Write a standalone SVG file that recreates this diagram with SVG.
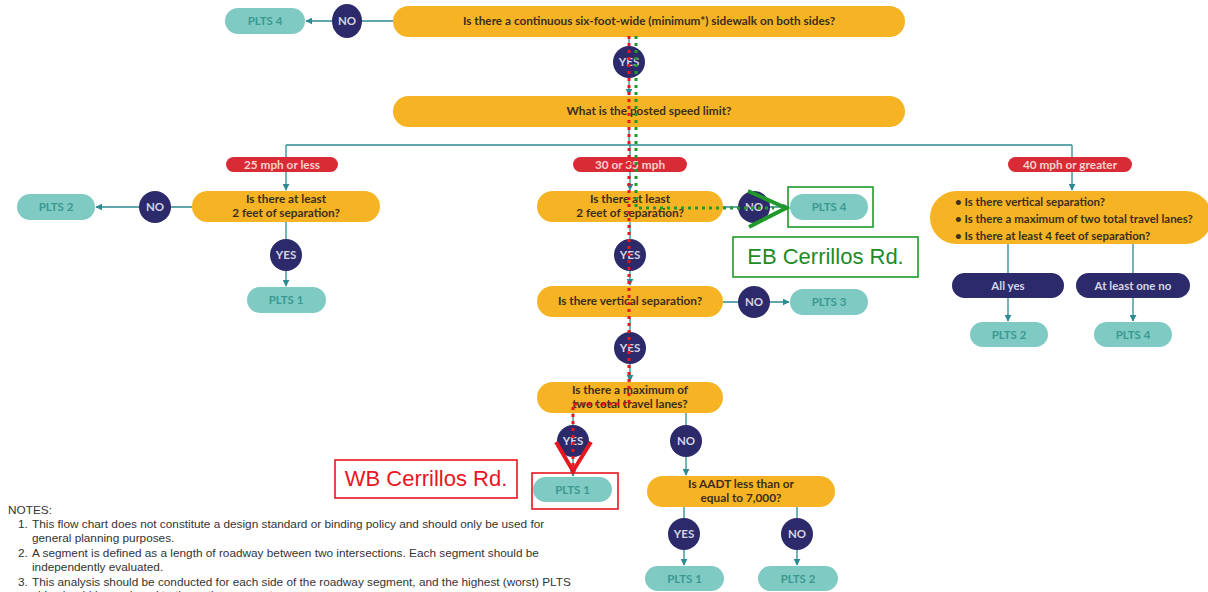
<svg xmlns="http://www.w3.org/2000/svg" width="1208" height="592" viewBox="0 0 1208 592">
  <style>
    .q { fill: #F6B424; }
    .qt { font-family: Lato, "Open Sans", sans-serif; font-weight: 700; font-size: 11.8px; fill: #3A2E1E; text-anchor: middle; }
    .qtl { font-family: Lato, "Open Sans", sans-serif; font-weight: 700; font-size: 11.5px; fill: #3A2E1E; }
    .res { fill: #7FCBC3; }
    .rt { font-family: Lato, "Open Sans", sans-serif; font-weight: 700; font-size: 11.5px; fill: #3C9891; text-anchor: middle; }
    .dot { fill: #2C2A6B; }
    .dt { font-family: Lato, "Open Sans", sans-serif; font-weight: 700; font-size: 11.5px; fill: #D6D6E4; text-anchor: middle; }
    .lab { fill: #D82B36; }
    .lt { font-family: Lato, "Open Sans", sans-serif; font-weight: 700; font-size: 11.8px; fill: #F6D3CB; text-anchor: middle; }
    .ln { fill: none; stroke: #2B8A92; stroke-width: 1.3; }
    .arr { fill: none; stroke: #2B8A92; stroke-width: 1.3; marker-end: url(#tip); }
    .note { font-family: "Liberation Sans", Arial, sans-serif; font-size: 11.8px; fill: #333333; }
    .red { stroke: #E8161E; }
    .green { stroke: #1F9A2A; }
  </style>
  <defs>
    <marker id="tip" viewBox="0 0 10 10" refX="9" refY="5" markerWidth="7" markerHeight="7" markerUnits="userSpaceOnUse" orient="auto">
      <path d="M0,0 L10,5 L0,10 Z" fill="#2B8A92"/>
    </marker>
  </defs>
  <rect width="1208" height="592" fill="#FFFFFF"/>

  <!-- connectors -->
  <g id="connectors">
    <path class="arr" d="M393,21 H306"/>
    <path class="arr" d="M629,37 V95"/>
    <path class="ln" d="M629,127 V145 M286,145 H1072"/>
    <path class="arr" d="M286,145 V190"/>
    <path class="arr" d="M630,145 V190"/>
    <path class="arr" d="M1072,145 V190"/>
    <path class="arr" d="M192,207 H96"/>
    <path class="arr" d="M286,222 V286"/>
    <path class="arr" d="M723,207 H789"/>
    <path class="arr" d="M630,222 V285"/>
    <path class="arr" d="M723,302 H789"/>
    <path class="arr" d="M630,317 V381"/>
    <path class="arr" d="M573,413 V476"/>
    <path class="arr" d="M686,413 V475"/>
    <path class="arr" d="M684,507 V565"/>
    <path class="arr" d="M797,507 V565"/>
    <path class="ln" d="M1008,244 V273 M1133,244 V273"/>
    <path class="arr" d="M1008,298 V321"/>
    <path class="arr" d="M1133,298 V321"/>
  </g>

  <!-- top question -->
  <g id="q-sidewalk">
    <rect class="q" x="393" y="6" width="512" height="31" rx="15.5"/>
    <text class="qt" x="649" y="25">Is there a continuous six-foot-wide (minimum*) sidewalk on both sides?</text>
  </g>
  <g id="no-sidewalk">
    <ellipse class="dot" cx="347" cy="21" rx="15" ry="17"/>
    <text class="dt" x="347" y="25">NO</text>
  </g>
  <g id="plts4-top">
    <rect class="res" x="225" y="8" width="80" height="26" rx="13"/>
    <text class="rt" x="265" y="25">PLTS 4</text>
  </g>
  <g id="yes-sidewalk">
    <circle class="dot" cx="629" cy="62" r="16"/>
    <text class="dt" x="629" y="66">YES</text>
  </g>
  <g id="q-speed">
    <rect class="q" x="393" y="96" width="512" height="31" rx="15.5"/>
    <text class="qt" x="649" y="115">What is the posted speed limit?</text>
  </g>

  <!-- speed labels -->
  <g id="lab-25">
    <rect class="lab" x="226" y="157" width="112" height="15" rx="7.5"/>
    <text class="lt" x="282" y="168.5">25 mph or less</text>
  </g>
  <g id="lab-30">
    <rect class="lab" x="573" y="157" width="114" height="15" rx="7.5"/>
    <text class="lt" x="630" y="168.5">30 or 35 mph</text>
  </g>
  <g id="lab-40">
    <rect class="lab" x="1008" y="157" width="124" height="15" rx="7.5"/>
    <text class="lt" x="1070" y="168.5">40 mph or greater</text>
  </g>

  <!-- 25 mph branch -->
  <g id="q-sep25">
    <rect class="q" x="192" y="191" width="188" height="31" rx="15.5"/>
    <text class="qt" x="286" y="203">Is there at least</text>
    <text class="qt" x="286" y="217">2 feet of separation?</text>
  </g>
  <g id="no-sep25">
    <circle class="dot" cx="155" cy="207" r="16"/>
    <text class="dt" x="155" y="211">NO</text>
  </g>
  <g id="plts2-25">
    <rect class="res" x="17" y="194" width="78" height="26" rx="13"/>
    <text class="rt" x="56" y="211">PLTS 2</text>
  </g>
  <g id="yes-sep25">
    <circle class="dot" cx="286" cy="255" r="16"/>
    <text class="dt" x="286" y="259">YES</text>
  </g>
  <g id="plts1-25">
    <rect class="res" x="247" y="287" width="79" height="26" rx="13"/>
    <text class="rt" x="286" y="304">PLTS 1</text>
  </g>

  <!-- 30 or 35 mph branch -->
  <g id="q-sep30">
    <rect class="q" x="537" y="191" width="186" height="31" rx="15.5"/>
    <text class="qt" x="630" y="203">Is there at least</text>
    <text class="qt" x="630" y="217">2 feet of separation?</text>
  </g>
  <g id="no-sep30">
    <circle class="dot" cx="754" cy="207" r="16"/>
    <text class="dt" x="754" y="211">NO</text>
  </g>
  <g id="plts4-30">
    <rect class="res" x="790" y="194" width="78" height="26" rx="13"/>
    <text class="rt" x="829" y="211">PLTS 4</text>
  </g>
  <g id="yes-sep30">
    <circle class="dot" cx="630" cy="255" r="16"/>
    <text class="dt" x="630" y="259">YES</text>
  </g>
  <g id="q-vert30">
    <rect class="q" x="537" y="286" width="186" height="31" rx="15.5"/>
    <text class="qt" x="630" y="305">Is there vertical separation?</text>
  </g>
  <g id="no-vert30">
    <circle class="dot" cx="754" cy="302" r="16"/>
    <text class="dt" x="754" y="306">NO</text>
  </g>
  <g id="plts3-30">
    <rect class="res" x="790" y="289" width="78" height="26" rx="13"/>
    <text class="rt" x="829" y="306">PLTS 3</text>
  </g>
  <g id="yes-vert30">
    <circle class="dot" cx="630" cy="348" r="16"/>
    <text class="dt" x="630" y="352">YES</text>
  </g>
  <g id="q-lanes30">
    <rect class="q" x="537" y="382" width="186" height="31" rx="15.5"/>
    <text class="qt" x="630" y="394">Is there a maximum of</text>
    <text class="qt" x="630" y="408">two total travel lanes?</text>
  </g>
  <g id="yes-lanes30">
    <circle class="dot" cx="573" cy="441" r="16"/>
    <text class="dt" x="573" y="445">YES</text>
  </g>
  <g id="plts1-lanes">
    <rect class="res" x="533" y="477" width="79" height="25" rx="12.5"/>
    <text class="rt" x="572.5" y="494">PLTS 1</text>
  </g>
  <g id="no-lanes30">
    <circle class="dot" cx="686" cy="441" r="16"/>
    <text class="dt" x="686" y="445">NO</text>
  </g>
  <g id="q-aadt">
    <rect class="q" x="647" y="476" width="188" height="31" rx="15.5"/>
    <text class="qt" x="741" y="488">Is AADT less than or</text>
    <text class="qt" x="741" y="502">equal to 7,000?</text>
  </g>
  <g id="yes-aadt">
    <circle class="dot" cx="684" cy="534" r="16"/>
    <text class="dt" x="684" y="538">YES</text>
  </g>
  <g id="no-aadt">
    <circle class="dot" cx="797" cy="534" r="16"/>
    <text class="dt" x="797" y="538">NO</text>
  </g>
  <g id="plts1-aadt">
    <rect class="res" x="645" y="566" width="79" height="25" rx="12.5"/>
    <text class="rt" x="684.5" y="583">PLTS 1</text>
  </g>
  <g id="plts2-aadt">
    <rect class="res" x="758" y="566" width="80" height="25" rx="12.5"/>
    <text class="rt" x="798" y="583">PLTS 2</text>
  </g>

  <!-- 40 mph or greater branch -->
  <g id="q-40">
    <rect class="q" x="930" y="191" width="282" height="53" rx="26.5"/>
    <text class="qtl" x="955" y="206">• Is there vertical separation?</text>
    <text class="qtl" x="955" y="223">• Is there a maximum of two total travel lanes?</text>
    <text class="qtl" x="955" y="240">• Is there at least 4 feet of separation?</text>
  </g>
  <g id="all-yes">
    <rect class="dot" x="952" y="273" width="112" height="25" rx="12.5"/>
    <text class="dt" x="1008" y="290">All yes</text>
  </g>
  <g id="one-no">
    <rect class="dot" x="1076" y="273" width="114" height="25" rx="12.5"/>
    <text class="dt" x="1133" y="290">At least one no</text>
  </g>
  <g id="plts2-40">
    <rect class="res" x="970" y="322" width="78" height="25" rx="12.5"/>
    <text class="rt" x="1009" y="339">PLTS 2</text>
  </g>
  <g id="plts4-40">
    <rect class="res" x="1094" y="322" width="78" height="25" rx="12.5"/>
    <text class="rt" x="1133" y="339">PLTS 4</text>
  </g>

  <!-- westbound route overlay -->
  <g id="wb-route" fill="none">
    <path class="red" d="M629,36 V404 H573 V468" stroke-width="3" stroke-dasharray="3 4"/>
    <path class="red" d="M556,442 L573,471 L591,442" stroke-width="4" stroke-linejoin="miter"/>
    <rect class="red" x="532" y="473" width="86" height="36" stroke-width="1.6"/>
    <rect class="red" x="335" y="460" width="182" height="38" stroke-width="1.6"/>
    <text x="426" y="486" font-family="Liberation Sans, Arial, sans-serif" font-size="22" fill="#E8161E" stroke="none" text-anchor="middle">WB Cerrillos Rd.</text>
  </g>

  <!-- eastbound route overlay -->
  <g id="eb-route" fill="none">
    <path class="green" d="M636,36 V208 H774" stroke-width="3" stroke-dasharray="3 4"/>
    <path class="green" d="M748,191 L786,208 L749,227" stroke-width="4"/>
    <rect class="green" x="788" y="187" width="85" height="40" stroke-width="1.6"/>
    <rect class="green" x="733" y="237" width="185" height="40" stroke-width="1.6"/>
    <text x="825.5" y="264" font-family="Liberation Sans, Arial, sans-serif" font-size="22" fill="#1F8A28" stroke="none" text-anchor="middle">EB Cerrillos Rd.</text>
  </g>

  <!-- notes -->
  <g id="notes" class="note">
    <text x="8" y="514">NOTES:</text>
    <text x="18" y="528">1.</text>
    <text x="32" y="528">This flow chart does not constitute a design standard or binding policy and should only be used for</text>
    <text x="32" y="542">general planning purposes.</text>
    <text x="18" y="557">2.</text>
    <text x="32" y="557">A segment is defined as a length of roadway between two intersections. Each segment should be</text>
    <text x="32" y="571">independently evaluated.</text>
    <text x="18" y="586">3.</text>
    <text x="32" y="586">This analysis should be conducted for each side of the roadway segment, and the highest (worst) PLTS</text>
    <text x="32" y="599">side should be assigned to the entire segment.</text>
  </g>
</svg>
